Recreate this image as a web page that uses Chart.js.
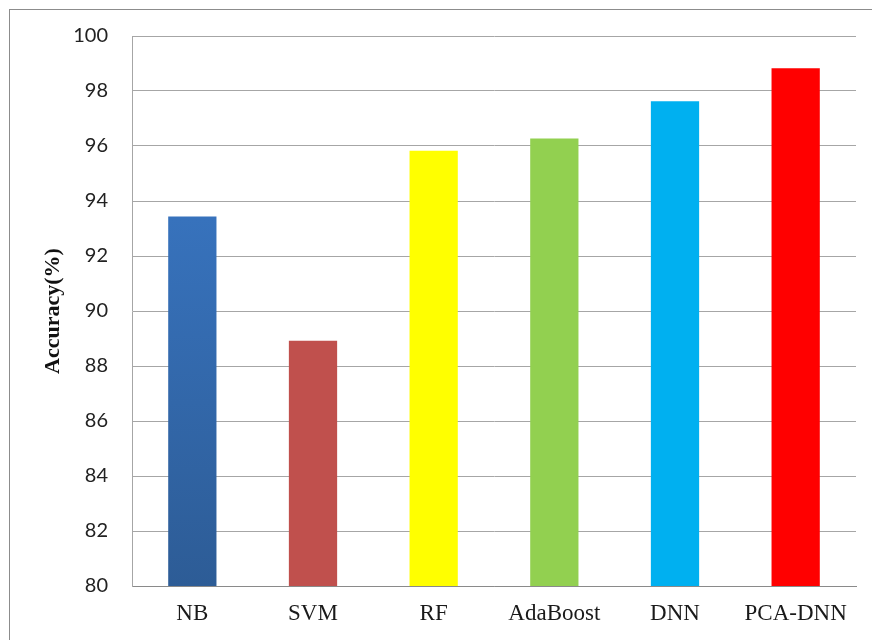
<!DOCTYPE html>
<html>
<head>
<meta charset="utf-8">
<script src="https://cdn.jsdelivr.net/npm/chart.js@4/dist/chart.umd.min.js"></script>
<style>
  html, body { margin: 0; padding: 0; background: #fff; }
  #wrap { position: relative; width: 872px; height: 640px; }
</style>
</head>
<body>
<div id="wrap"><canvas id="myChart" width="872" height="640"></canvas></div>
<script>
// chart data
const models = ['NB', 'SVM', 'RF', 'AdaBoost', 'DNN', 'PCA-DNN'];
const accuracy = [93.44, 88.92, 95.83, 96.27, 97.63, 98.83];
const barColors = [null, '#C0504D', '#FFFF00', '#92D050', '#00B0F0', '#FF0000'];
const yTicks = [80, 82, 84, 86, 88, 90, 92, 94, 96, 98, 100];

// outer frame of the picture
const framePlugin = {
  id: 'frame',
  beforeDraw(chart) {
    const c = chart.ctx;
    c.save();
    c.fillStyle = '#fff';
    c.fillRect(0, 0, chart.width, chart.height);
    c.strokeStyle = '#8c8c8c';
    c.lineWidth = 1;
    c.strokeRect(9.5, 9.5, 900, 700);
    c.restore();
  }
};

function barFill(context) {
  const i = context.dataIndex;
  if (i !== 0) return barColors[i];
  const area = context.chart.chartArea;
  if (!area) return '#3A74C2';
  // NB bar has a vertical gradient
  const g = context.chart.ctx.createLinearGradient(0, area.top, 0, area.bottom);
  g.addColorStop(0, '#3C7DCF');
  g.addColorStop(1, '#2D5C96');
  return g;
}

const ctx = document.getElementById('myChart').getContext('2d');
const myChart = new Chart(ctx, {
  type: 'bar',
  data: {
    labels: models,
    datasets: [{
      label: 'Accuracy',
      data: accuracy,
      backgroundColor: barFill,
      borderWidth: 0,
      categoryPercentage: 1.0,
      barPercentage: 0.4
    }]
  },
  options: {
    responsive: false,
    animation: false,
    layout: { padding: { left: 0, top: 35, right: 16, bottom: 0 } },
    plugins: {
      legend: { display: false },
      tooltip: { enabled: false }
    },
    scales: {
      x: {
        grid: { display: false, drawTicks: false },
        border: { display: true, color: '#8a8a8a', width: 1 },
        ticks: {
          padding: 14,
          color: '#1a1a1a',
          font: { family: '"Liberation Serif", "Times New Roman", serif', size: 23 }
        },
        afterFit(scale) { scale.height = 54; }
      },
      y: {
        min: 80,
        max: 100,
        afterBuildTicks(scale) { scale.ticks = yTicks.map(v => ({ value: v })); },
        grid: { color: '#a6a6a6', lineWidth: 1, drawTicks: false },
        border: { display: true, color: '#a6a6a6', width: 1 },
        ticks: {
          padding: 24,
          color: '#222',
          font: { family: 'Lato, "Open Sans", sans-serif', size: 20 }
        },
        title: {
          display: true,
          text: 'Accuracy(%)',
          color: '#111',
          padding: { top: 40, bottom: 0 },
          font: { family: '"Liberation Serif", "Times New Roman", serif', size: 22, weight: 'bold' }
        },
        afterFit(scale) { scale.width = 132; }
      }
    }
  },
  plugins: [framePlugin]
});
</script>
</body>
</html>
